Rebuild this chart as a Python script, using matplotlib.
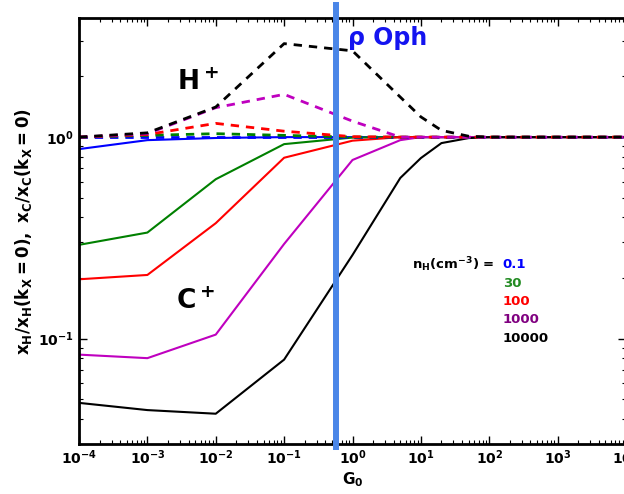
import matplotlib
matplotlib.use("Agg")
import matplotlib.pyplot as plt

plt.rcParams['font.family'] = ['DejaVu Sans']
plt.rcParams['font.weight'] = 'bold'
plt.rcParams['mathtext.fontset'] = 'dejavusans'
plt.rcParams['mathtext.default'] = 'bf'

# G0 grid shared by all curves
g0 = [1e-4, 1e-3, 1e-2, 1e-1, 1, 5, 10, 20, 50, 100, 1e4]

densities = ['0.1', '30', '100', '1000', '10000']
line_colors = ['#0000ff', '#008000', '#ff0000', '#bf00bf', '#000000']
text_colors = ['#0000ff', '#228b22', '#ff0000', '#800080', '#000000']

# C+ ratios (solid)
c_blue = [0.872, 0.966, 0.99, 1.0, 1.0, 1.0, 1.0, 1.0, 1.0, 1.0, 1.0]
c_green = [0.292, 0.336, 0.618, 0.923, 0.995, 1.0, 1.0, 1.0, 1.0, 1.0, 1.0]
c_red = [0.197, 0.207, 0.374, 0.79, 0.96, 1.0, 1.0, 1.0, 1.0, 1.0, 1.0]
c_purple = [0.0833, 0.080, 0.1047, 0.295, 0.77, 0.966, 1.0, 1.0, 1.0, 1.0, 1.0]
c_black = [0.048, 0.0442, 0.0424, 0.0787, 0.26, 0.627, 0.787, 0.934, 0.989, 1.0, 1.0]

# H+ ratios (dashed)
h_blue = [1.0, 1.0, 1.0, 1.0, 1.0, 1.0, 1.0, 1.0, 1.0, 1.0, 1.0]
h_green = [1.0, 1.02, 1.04, 1.02, 1.0, 1.0, 1.0, 1.0, 1.0, 1.0, 1.0]
h_red = [1.0, 1.03, 1.17, 1.07, 1.005, 1.0, 1.0, 1.0, 1.0, 1.0, 1.0]
h_purple = [1.0, 1.04, 1.40, 1.63, 1.20, 1.0, 1.0, 1.0, 1.0, 1.0, 1.0]
h_black = [1.0, 1.05, 1.41, 2.91, 2.68, 1.58, 1.26, 1.08, 1.01, 1.0, 1.0]

c_curves = [c_blue, c_green, c_red, c_purple, c_black]
h_curves = [h_blue, h_green, h_red, h_purple, h_black]

rho_oph_g0 = 0.57

fig = plt.figure(figsize=(6.24, 4.94), dpi=100)
ax = fig.add_axes([79 / 624, 50 / 494, 547 / 624, 426 / 494])

for vals, col in zip(c_curves, line_colors):
    ax.plot(g0, vals, color=col, lw=1.5)
for vals, col in zip(h_curves, line_colors):
    ax.plot(g0, vals, color=col, lw=2.0, ls=(0, (3, 2.5)))

ax.set_xscale('log')
ax.set_yscale('log')
ax.set_xlim(1e-4, 1e4)
ax.set_ylim(0.03, 3.9)

# rho Oph marker, runs a bit past the frame like in the slide
ax.axvline(rho_oph_g0, ymin=-0.007, ymax=1.03, color='#4a86e8', lw=4.3,
           clip_on=False, zorder=5)

ax.tick_params(which='both', direction='in', top=True, right=True, labelsize=10)
ax.tick_params(which='major', length=6, width=1)
ax.tick_params(which='minor', length=3, width=0.8)
for sp in ax.spines.values():
    sp.set_linewidth(2)

ax.set_xlabel(r'$G_0$', fontsize=11, labelpad=2)
ax.set_ylabel(r'$x_H/x_H(k_X{=}0),\ x_C/x_C(k_X{=}0)$', fontsize=12,
              labelpad=3)

ax.text(10**-2.57, 1.87, r'H$^+$', fontsize=19, ha='left', va='center')
ax.text(10**-2.58, 0.152, r'C$^+$', fontsize=19, ha='left', va='center')
ax.text(0.873, 3.09, r'ρ Oph', fontsize=17, color='#1414f0', ha='left',
        va='center')

ax.text(124.5, 0.232, r'$n_H(cm^{-3})$ = ', fontsize=9.5, ha='right',
        va='center')
legend_y = [0.232, 0.1887, 0.153, 0.124, 0.1007]
for lab, col, yy in zip(densities, text_colors, legend_y):
    ax.text(158, yy, lab, fontsize=9.5, color=col, ha='left', va='center')

fig.savefig('out.png', dpi=100)
